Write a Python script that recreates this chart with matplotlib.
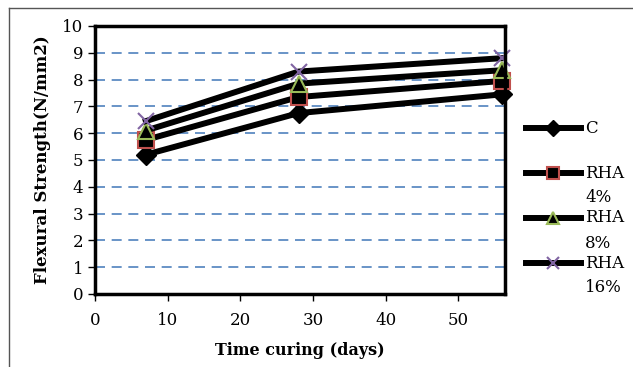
import matplotlib
matplotlib.use("Agg")
import matplotlib.pyplot as plt
from matplotlib.lines import Line2D

days = [7, 28, 56]
c_vals = [5.2, 6.75, 7.45]
rha4_vals = [5.75, 7.35, 7.95]
rha8_vals = [6.1, 7.85, 8.35]
rha16_vals = [6.45, 8.3, 8.8]
labels = ["C", "RHA\n4%", "RHA\n8%", "RHA\n16%"]

plt.rcParams['font.family'] = ['DejaVu Serif']

W, H = 633, 367
fig = plt.figure(figsize=(W/100, H/100), dpi=100)
ax = fig.add_axes([95/W, 1-294/H, 410/W, 268/H])

# figure border (top and left visible)
fig.add_artist(Line2D([9/W, 9/W], [0, 1-8/H], transform=fig.transFigure, color='#555555', lw=1))
fig.add_artist(Line2D([9/W, 1], [1-8/H, 1-8/H], transform=fig.transFigure, color='#555555', lw=1))

lw = 4.3
styles = [
    dict(marker='D', ms=10, mfc='black', mec='black'),
    dict(marker='s', ms=11, mfc='black', mec='#c0504d', mew=1.5),
    dict(marker='^', ms=12, mfc='black', mec='#9bbb59', mew=1.5),
    dict(marker='x', ms=12, mec='#8064a2', mew=1.5),
]
series = [c_vals, rha4_vals, rha8_vals, rha16_vals]
for vals, st in zip(series, styles):
    ax.plot(days, vals, color='black', lw=lw, clip_on=False, **st)

ax.set_xlim(0, 56.4)
ax.set_ylim(0, 10)
ax.set_yticks(range(0, 11))
ax.set_xticks(range(0, 51, 10))
for y in range(1, 10):
    ax.axhline(y, color='#4f81bd', lw=1.2, ls=(0, (6, 4)), zorder=0)
for s in ax.spines.values():
    s.set_linewidth(2.5)
ax.tick_params(direction='out', length=5, width=1, labelsize=12)
ax.tick_params(axis='x', pad=8)
ax.set_xlabel('Time curing (days)', fontsize=11.5, fontweight='bold', labelpad=9)
ax.set_ylabel('Flexural Strength(N/mm2)', fontsize=12, fontweight='bold', labelpad=8)

# manual legend
leg_y = [128, 173, 218, 263]
for lab, st, yy in zip(labels, styles, leg_y):
    yf = 1 - yy/H
    fig.add_artist(Line2D([526/W, 581/W], [yf, yf], transform=fig.transFigure,
                          color='black', lw=lw))
    st2 = dict(st)
    st2['ms'] = 8
    fig.add_artist(Line2D([553/W], [yf], transform=fig.transFigure, color='black', lw=0, **st2))
    lines = lab.split('\n')
    for i, t in enumerate(lines):
        fig.text(585/W, 1 - (yy + 25*i)/H, t, fontsize=12, va='center', ha='left')

fig.savefig('out.png', dpi=100)
